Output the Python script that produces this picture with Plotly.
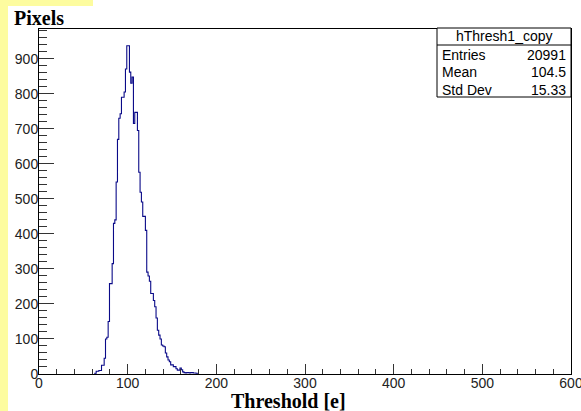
import plotly.graph_objects as go

# ---- Data (histogram hThresh1_copy: 400 bins from 0 to 600) ----
n_bins = 400
x_min, x_max = 0.0, 600.0
first_bin = 42  # index of first non-empty bin shown below (left edge 63)
counts = [2, 8, 8, 10, 10, 25, 25, 45, 100, 105, 150, 258, 258, 315, 430, 440,
          548, 670, 730, 743, 790, 790, 805, 871, 937, 937, 862, 830, 848, 715,
          747, 747, 695, 576, 519, 491, 450, 450, 410, 291, 280, 265, 230, 230,
          210, 192, 160, 125, 111, 100, 83, 80, 78, 60, 49, 40, 35, 26, 26, 21,
          21, 15, 11, 11, 17, 12, 6, 4, 3, 4, 4, 3, 4, 4, 3, 3, 2]
stats_name = "hThresh1_copy"
stats_labels = ["Entries", "Mean", "Std Dev"]
stats_values = ["20991", "104.5", "15.33"]
x_ticks = [0, 100, 200, 300, 400, 500, 600]
y_ticks = [0, 100, 200, 300, 400, 500, 600, 700, 800, 900]
x_title = "Threshold [e]"
y_title = "Pixels"

bw = (x_max - x_min) / n_bins
edges = [x_min + (first_bin + i) * bw for i in range(len(counts) + 1)]
xs = [edges[0]] + edges
ys = [0] + counts + [0]

W, H = 581, 411
L, R, T, B = 39, 10, 29, 37
pw, ph = W - L - R, H - T - B

def px(x):
    return (x - L) / pw

def py(y):
    return (H - B - y) / ph

fig = go.Figure()
fig.add_trace(go.Scatter(
    x=xs, y=ys, mode="lines", line=dict(color="#0a0a88", width=1.1, shape="hv"),
    hoverinfo="skip", showlegend=False))

axis_common = dict(
    showgrid=False, zeroline=False, showline=True, linecolor="black", linewidth=1,
    mirror=True, ticks="inside", tickcolor="#333", tickwidth=1,
    ticklabeloverflow="allow", automargin=False,
    tickfont=dict(family="Liberation Sans, Arial, sans-serif", size=14, color="#222"),
)
fig.update_xaxes(range=[x_min, x_max], tickvals=x_ticks, ticklen=10,
                 ticklabelstandoff=-4,
                 minor=dict(dtick=20, ticklen=5, ticks="inside", tickcolor="#333"),
                 **axis_common)
fig.update_yaxes(range=[0, 985], tickvals=y_ticks, ticklen=15,
                 ticklabelstandoff=-3,
                 minor=dict(dtick=20, ticklen=8, ticks="inside", tickcolor="#333"),
                 **axis_common)

yellow = "#fdfc9f"
shapes = [
    dict(type="rect", xref="paper", yref="paper", x0=px(0), x1=px(8), y0=py(H), y1=py(0),
         fillcolor=yellow, line=dict(width=0), layer="below"),
    dict(type="rect", xref="paper", yref="paper", x0=px(0), x1=px(93), y0=py(6), y1=py(0),
         fillcolor=yellow, line=dict(width=0), layer="below"),
    # stats box
    dict(type="rect", xref="paper", yref="paper", x0=px(437), x1=px(571), y0=py(97), y1=py(28),
         fillcolor="white", line=dict(color="black", width=1)),
    dict(type="line", xref="paper", yref="paper", x0=px(437), x1=px(571), y0=py(45), y1=py(45),
         line=dict(color="black", width=1)),
]

sfont = dict(family="Liberation Sans, Arial, sans-serif", size=14, color="black")
annotations = [
    dict(text=stats_name, x=px(504), y=py(36.5), xref="paper", yref="paper",
         showarrow=False, xanchor="center", yanchor="middle", font=sfont),
]
for i, (lab, val) in enumerate(zip(stats_labels, stats_values)):
    yy = py(54.5 + i * 17.5)
    annotations.append(dict(text=lab, x=px(440), y=yy, xref="paper", yref="paper",
                            showarrow=False, xanchor="left", yanchor="middle", font=sfont))
    annotations.append(dict(text=val, x=px(568), y=yy, xref="paper", yref="paper",
                            showarrow=False, xanchor="right", yanchor="middle", font=sfont))

tfont = dict(family="Liberation Serif, Times New Roman, serif", size=20, color="black")
annotations.append(dict(text="<b>" + y_title + "</b>", x=px(12), y=py(18), xref="paper",
                        yref="paper", showarrow=False, xanchor="left", yanchor="middle",
                        font=tfont))
annotations.append(dict(text="<b>" + x_title + "</b>", x=px(288), y=py(401), xref="paper",
                        yref="paper", showarrow=False, xanchor="center", yanchor="middle",
                        font=tfont))

fig.update_layout(
    width=W, height=H, margin=dict(l=L, r=R, t=T, b=B, pad=0, autoexpand=False),
    paper_bgcolor="white", plot_bgcolor="white",
    shapes=shapes, annotations=annotations, showlegend=False,
)
fig.write_html("out.html")
